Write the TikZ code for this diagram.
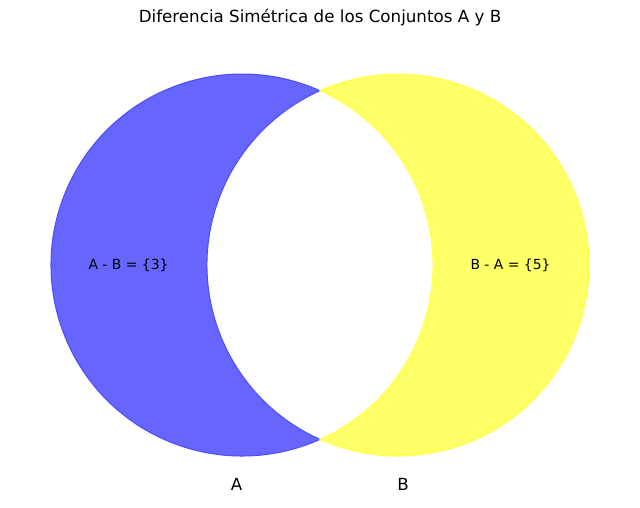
\documentclass[tikz,border=0pt]{standalone}
\usepackage{fontspec}
\setmainfont{DejaVu Sans}
\definecolor{bfill}{HTML}{6666FF}
\definecolor{bedge}{HTML}{4D4DFF}
\definecolor{yfill}{HTML}{FFFF66}
\definecolor{yedge}{HTML}{FFFF4D}
\begin{document}
\begin{tikzpicture}[x=1pt,y=1pt,
  setlabel/.style={font=\fontsize{13.9}{16}\selectfont, text=black, inner sep=0pt},
  biglabel/.style={font=\fontsize{16.7}{19}\selectfont, text=black, inner sep=0pt}]
\useasboundingbox (0,0) rectangle (640,508);
\coordinate (ca) at (242,243);
\coordinate (cb) at (398,243);
\coordinate (top) at (320,417.3);
\coordinate (bot) at (320,68.7);
% left crescent A - B
\filldraw[fill=bfill, draw=bedge, line width=1pt, line join=miter]
  (top) arc[start angle=65.9, end angle=294.1, radius=191]
  arc[start angle=245.9, end angle=114.1, radius=191] -- cycle;
% right crescent B - A
\filldraw[fill=yfill, draw=yedge, line width=1pt]
  (top) arc[start angle=114.1, end angle=-114.1, radius=191]
  arc[start angle=-65.9, end angle=65.9, radius=191] -- cycle;
\node[biglabel] (title) at (320,490) {Diferencia Simétrica de los Conjuntos A y B};
\node[setlabel] (lab) at (128.5,243) {A - B = \{3\}};
\node[setlabel] (lba) at (510.5,243) {B - A = \{5\}};
\node[biglabel] (na) at (236.5,24) {A};
\node[biglabel] (nb) at (403,24) {B};
\end{tikzpicture}
\end{document}
